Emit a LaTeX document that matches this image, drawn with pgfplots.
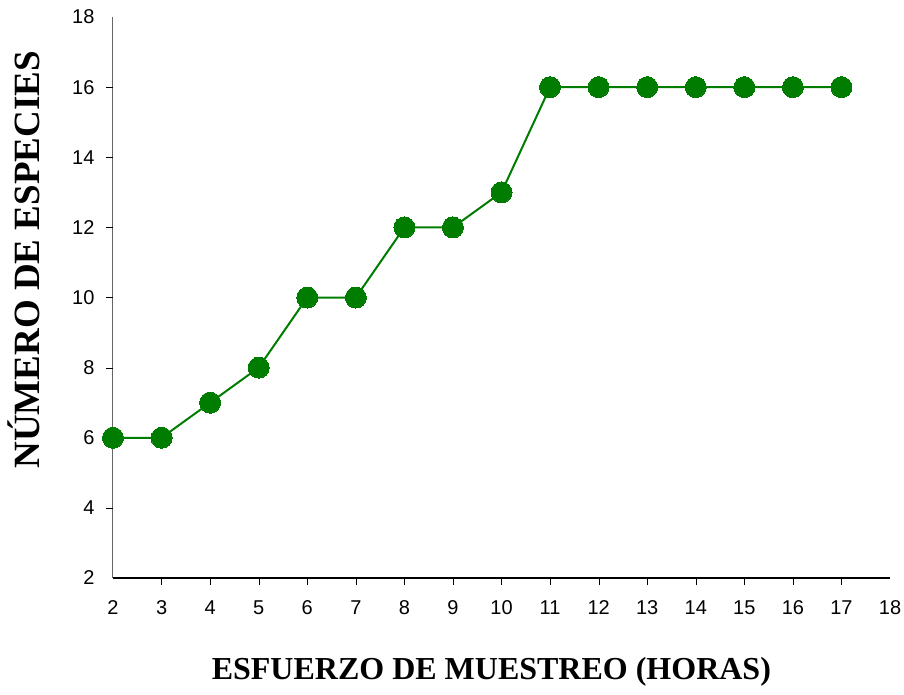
\documentclass[border=0pt]{standalone}
\usepackage{pgfplots}
\pgfplotsset{compat=1.18}
\usepackage{fontspec}
\setmainfont{Liberation Sans}
\newfontfamily\timesf{Liberation Serif}
\definecolor{mygreen}{RGB}{0,125,0}
\begin{document}
\begin{tikzpicture}
\begin{axis}[
  scale only axis,
  width=777pt, height=561pt,
  xmin=2, xmax=18, ymin=2, ymax=18,
  axis x line=bottom, axis y line=left,
  x axis line style={-, line width=1.6pt, black},
  y axis line style={-, line width=1pt, black!60},
  xtick={2,...,18}, ytick={2,4,...,18},
  major tick length=0pt,
  extra x ticks={3,...,17}, extra x tick labels={},
  extra y ticks={4,6,...,16}, extra y tick labels={},
  extra tick style={major tick length=7pt, tick align=outside, line width=1.2pt, black},
  tick style={black},
  xticklabel style={yshift=-19pt},
  yticklabel style={xshift=-15pt},
  ticklabel style={font=\fontsize{20}{20}\selectfont},
  /pgf/number format/assume math mode=true,
  xlabel={\timesf\bfseries ESFUERZO DE MUESTREO (HORAS)},
  ylabel={\timesf\bfseries NÚMERO DE ESPECIES},
  xlabel style={font=\fontsize{32}{32}\selectfont, at={(axis description cs:0.487,-0.168)}, anchor=center},
  ylabel style={font=\fontsize{37}{37}\selectfont, at={(axis description cs:-0.1146,0.567)}, anchor=center},
  clip=false,
]
\addplot[color=mygreen, line width=2pt, mark=*, mark size=10.5pt, mark options={fill=mygreen, draw=mygreen, line width=0pt}]
coordinates {
(2,6) (3,6) (4,7) (5,8) (6,10) (7,10) (8,12) (9,12) (10,13) (11,16)
(12,16) (13,16) (14,16) (15,16) (16,16) (17,16)
};
\end{axis}
\pgfresetboundingbox
\path[use as bounding box] (-113pt,-116pt) rectangle (791pt,578pt);
\end{tikzpicture}
\end{document}
